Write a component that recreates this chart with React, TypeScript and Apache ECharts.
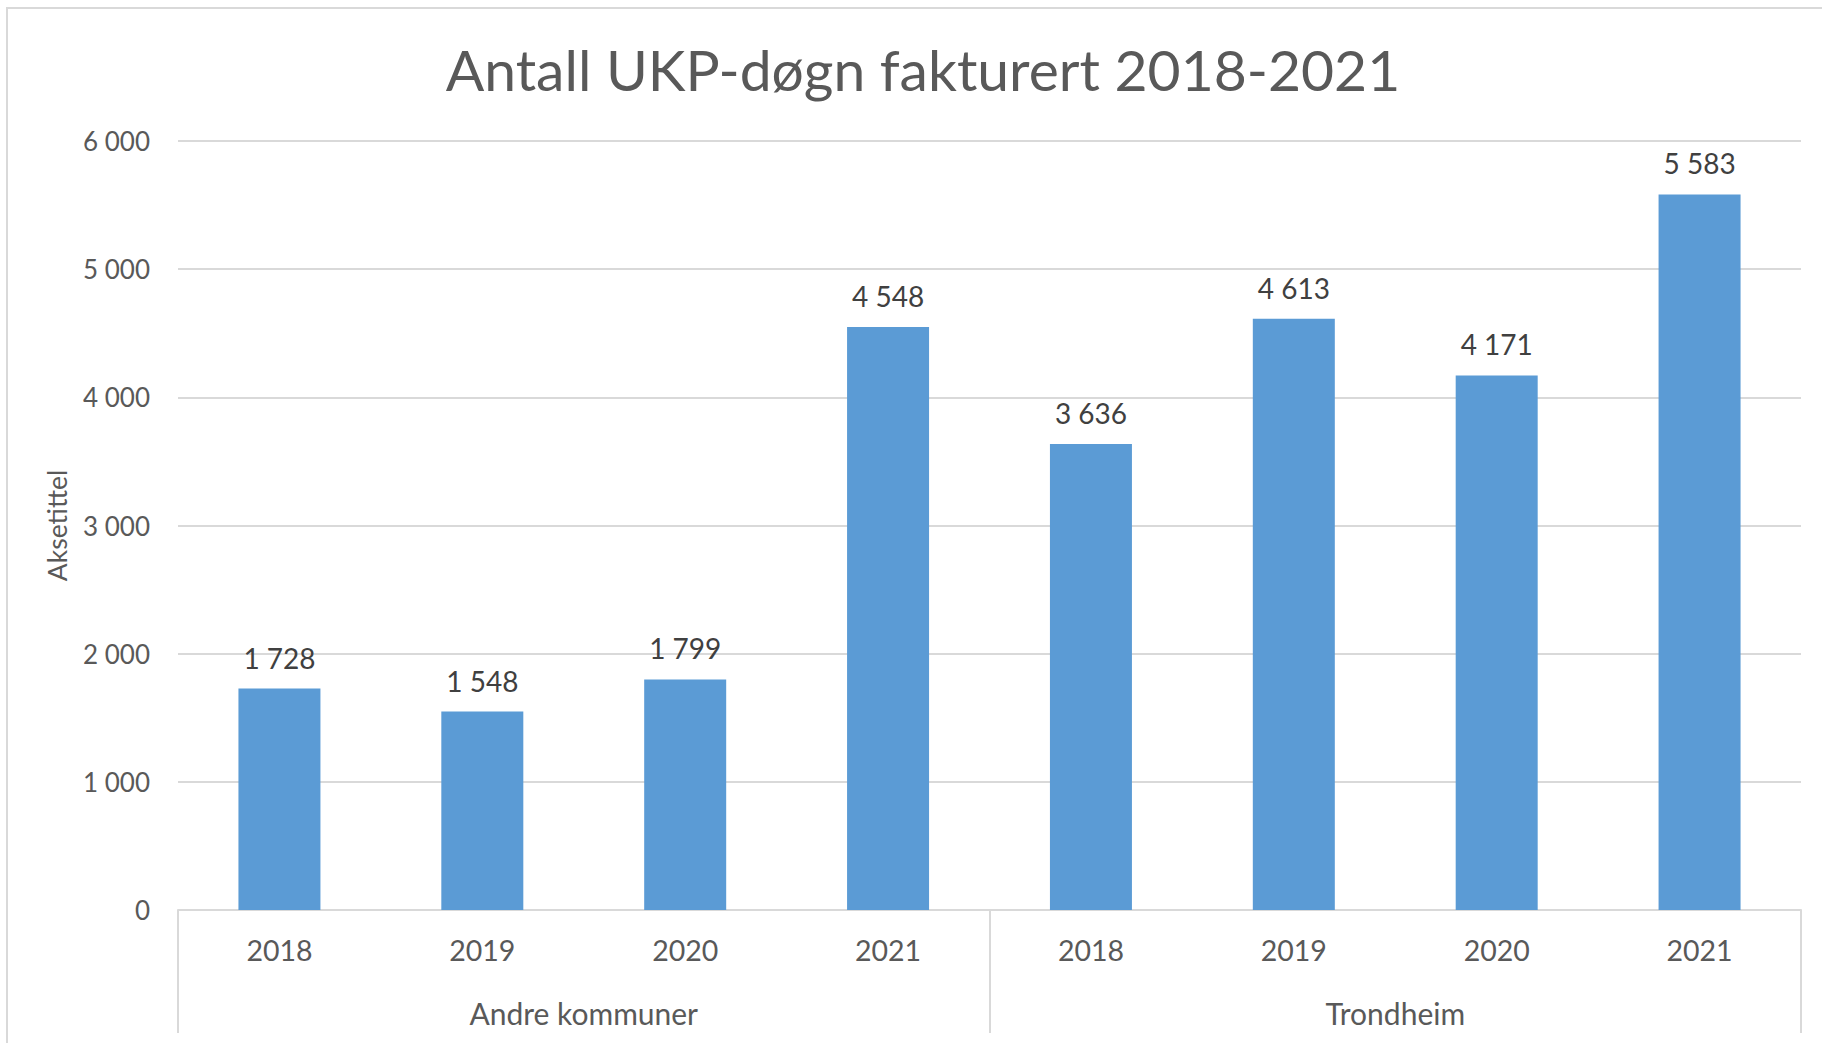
import React, { useEffect, useRef } from "react";
import * as echarts from "echarts";

const years = ["2018", "2019", "2020", "2021", "2018", "2019", "2020", "2021"];
const groups = ["Andre kommuner", "Trondheim"];
const values = [1728, 1548, 1799, 4548, 3636, 4613, 4171, 5583];
const titleText = "Antall UKP-døgn fakturert 2018-2021";
const yAxisName = "Aksetittel";

const fmt = (v: number) => String(v).replace(/\B(?=(\d{3})+(?!\d))/g, " ");

export default function App() {
  const ref = useRef<HTMLDivElement>(null);
  useEffect(() => {
    document.body.style.margin = "0";
    const chart = echarts.init(ref.current!, null, { renderer: "svg" });
    const font = "Lato";
    chart.setOption({
      animation: false,
      backgroundColor: "#ffffff",
      textStyle: { fontFamily: font },
      title: {
        text: titleText,
        left: 918,
        textAlign: "center",
        top: 35,
        textStyle: { fontFamily: font, fontSize: 57, fontWeight: "normal", color: "#595959" },
      },
      graphic: [
        {
          type: "rect",
          shape: { x: 7, y: 8, width: 1830, height: 1050 },
          style: { fill: "none", stroke: "#d9d9d9", lineWidth: 2 },
          silent: true,
        },
      ],
      grid: { left: 178, right: 21, top: 141, bottom: 133, containLabel: false },
      xAxis: [
        {
          type: "category",
          data: years,
          position: "bottom",
          axisLine: { show: true, lineStyle: { color: "#d9d9d9", width: 2 } },
          axisTick: { show: false },
          axisLabel: { margin: 25, fontSize: 28.5, color: "#595959", fontFamily: font },
        },
        {
          type: "category",
          data: groups,
          position: "bottom",
          axisLine: { show: false },
          axisTick: { show: true, length: 123, alignWithLabel: false, lineStyle: { color: "#d9d9d9", width: 2 } },
          axisLabel: { margin: 88, fontSize: 30, color: "#595959", fontFamily: font },
        },
      ],
      yAxis: {
        type: "value",
        min: 0,
        max: 6000,
        interval: 1000,
        name: yAxisName,
        nameLocation: "middle",
        nameGap: 108,
        nameTextStyle: { fontSize: 26.5, color: "#595959", fontFamily: font },
        axisLine: { show: false },
        axisTick: { show: false },
        splitLine: { lineStyle: { color: "#d9d9d9", width: 2 } },
        axisLabel: { margin: 28, fontSize: 26, color: "#595959", fontFamily: font, formatter: (v: number) => fmt(v) },
      },
      series: [
        {
          type: "bar",
          xAxisIndex: 0,
          data: values,
          barWidth: 82,
          itemStyle: { color: "#5b9bd5" },
          label: {
            show: true,
            position: "top",
            distance: 17,
            fontSize: 28,
            color: "#404040",
            fontFamily: font,
            formatter: (p: any) => fmt(p.value),
          },
        },
      ],
    });
    return () => chart.dispose();
  }, []);
  return <div ref={ref} style={{ width: 1822, height: 1043 }} />;
}
